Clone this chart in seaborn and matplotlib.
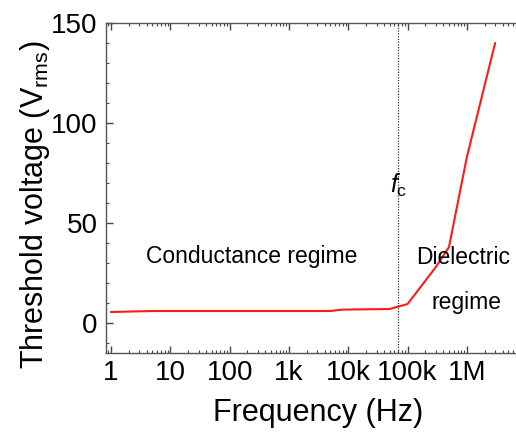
"""Threshold voltage vs frequency"""

import matplotlib
matplotlib.use("Agg")
import matplotlib.pyplot as plt
import matplotlib.ticker as mticker
import seaborn as sns
import pandas as pd

freq_hz = [1, 5, 5000, 8000, 50000, 100000, 300000, 500000, 1000000, 3000000]
threshold_v = [5.5, 6.0, 6.0, 6.7, 7.0, 9.5, 28, 38, 83, 140]

tick_values = [1, 10, 100, 1e3, 1e4, 1e5, 1e6]
tick_labels = ["1", "10", "100", "1k", "10k", "100k", "1M"]
f_c = 70000


def main() -> None:
    sns.set_style("ticks")
    plt.rcParams["font.family"] = ["Liberation Sans", "DejaVu Sans"]
    plt.rcParams["mathtext.fontset"] = "custom"
    plt.rcParams["mathtext.it"] = "Liberation Sans:italic"
    plt.rcParams["mathtext.rm"] = "Liberation Sans"
    plt.rcParams["text.color"] = "black"
    plt.rcParams["axes.labelcolor"] = "black"

    df = pd.DataFrame({"freq": freq_hz, "vth": threshold_v})

    fig = plt.figure(figsize=(5.16, 4.36), dpi=100)
    ax = fig.add_axes([106 / 516, 1 - 353 / 436, 424 / 516, 330 / 436])
    sns.lineplot(data=df, x="freq", y="vth", color="#ff1a1a", linewidth=1.5, ax=ax)

    ax.set_xscale("log")
    ax.set_xlim(0.823, 1.16e7)
    ax.set_ylim(-15, 150)
    ax.axvline(f_c, color="#333333", linestyle=(0, (1, 1.2)), linewidth=0.9)

    ax.xaxis.set_major_locator(mticker.FixedLocator(tick_values))
    ax.xaxis.set_major_formatter(mticker.FixedFormatter(tick_labels))
    ax.xaxis.set_minor_locator(mticker.LogLocator(base=10, subs=range(2, 10), numticks=20))
    ax.xaxis.set_minor_formatter(mticker.NullFormatter())
    ax.yaxis.set_major_locator(mticker.MultipleLocator(50))
    ax.yaxis.set_minor_locator(mticker.MultipleLocator(10))

    ax.tick_params(which="both", direction="in", top=True, right=True,
                   colors="#444444", labelcolor="black")
    ax.tick_params(which="major", length=5, width=1, labelsize=20)
    ax.tick_params(which="minor", length=2.5, width=0.8)
    ax.tick_params(axis="x", which="major", pad=5)
    ax.tick_params(axis="y", which="major", pad=6)
    for s in ax.spines.values():
        s.set_color("#555555")
        s.set_linewidth(1.0)

    ax.set_xlabel("Frequency (Hz)", fontsize=22, labelpad=9)
    ax.set_ylabel(r"Threshold voltage (V$_{\mathrm{rms}}$)", fontsize=22)
    ax.yaxis.set_label_coords(-0.127, 0.45)

    ax.text(240, 33.5, "Conductance regime", fontsize=16.5, ha="center", va="center")
    ax.text(870000, 33, "Dielectric", fontsize=16.5, ha="center", va="center")
    ax.text(1000000, 10, "regime", fontsize=16.5, ha="center", va="center")
    ax.text(f_c, 69, r"$f_{\mathrm{c}}$", fontsize=18, ha="center", va="center")

    fig.savefig("out.png", dpi=100)


if __name__ == "__main__":
    main()
